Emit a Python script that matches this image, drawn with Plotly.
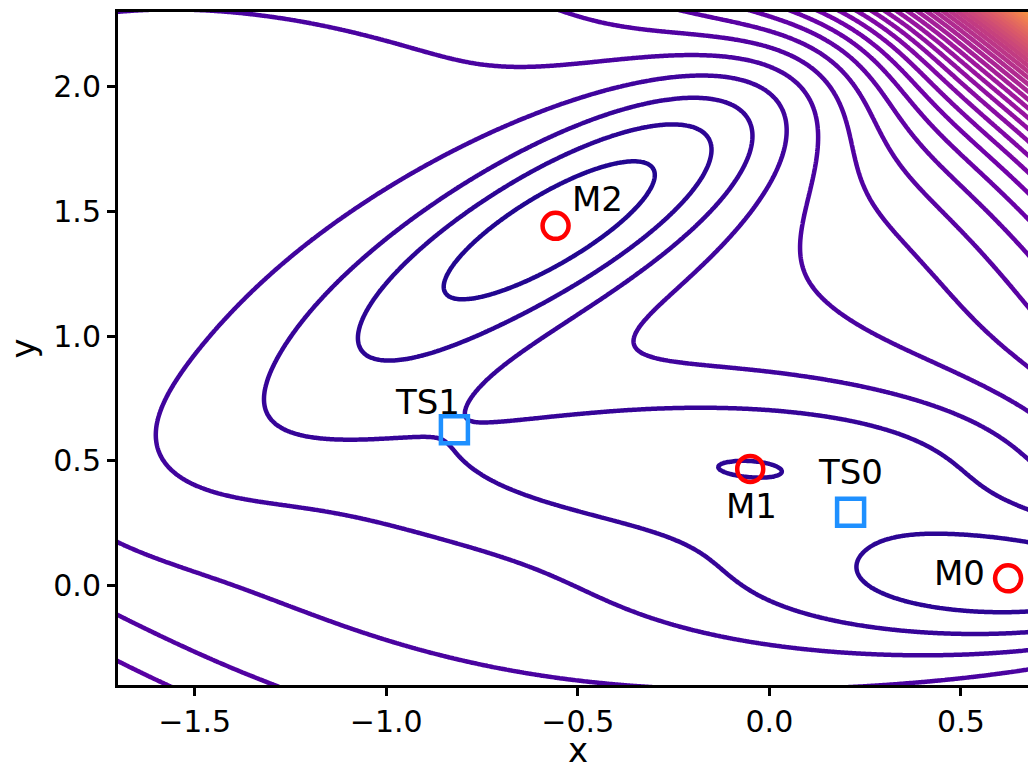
import numpy as np
import plotly.graph_objects as go

# Mueller-Brown potential parameters
A = [-200.0, -100.0, -170.0, 15.0]
a = [-1.0, -1.0, -6.5, 0.7]
b = [0.0, 0.0, 11.0, 0.6]
c = [-10.0, -10.0, -6.5, 0.7]
x0 = [1.0, 0.0, -0.5, -1.0]
y0 = [0.0, 0.5, 1.5, 1.0]

# stationary points
min_names = ["M0", "M1", "M2"]
min_x = [0.623, -0.050, -0.558]
min_y = [0.028, 0.467, 1.442]
ts_names = ["TS0", "TS1"]
ts_x = [0.212, -0.822]
ts_y = [0.293, 0.624]

# label positions
lab_names = ["M2", "M1", "M0", "TS0", "TS1"]
lab_x = [-0.448, -0.047, 0.497, 0.211, -0.892]
lab_y = [1.551, 0.318, 0.050, 0.455, 0.735]

# contour levels
lev_min = -200.0
lev_step = 40.0
lev_max = 1800.0

xt_vals = [-1.5, -1.0, -0.5, 0.0, 0.5]
xt_text = ["\u22121.5", "\u22121.0", "\u22120.5", "0.0", "0.5"]
yt_vals = [0.0, 0.5, 1.0, 1.5, 2.0]
yt_text = ["0.0", "0.5", "1.0", "1.5", "2.0"]

xs = np.linspace(-1.75, 0.72, 500)
ys = np.linspace(-0.45, 2.35, 500)
X, Y = np.meshgrid(xs, ys)
Z = np.zeros_like(X)
for k in range(4):
    dx = X - x0[k]
    dy = Y - y0[k]
    Z += A[k] * np.exp(a[k] * dx**2 + b[k] * dx * dy + c[k] * dy**2)

fig = go.Figure()
fig.add_trace(go.Contour(
    x=xs, y=ys, z=Z,
    colorscale="Plasma",
    zauto=False, zmin=lev_min, zmax=lev_max,
    contours=dict(coloring="lines", start=lev_min, end=lev_max, size=lev_step),
    line=dict(width=4.5, smoothing=1),
    showscale=False,
    hoverinfo="skip",
))
fig.add_trace(go.Scatter(
    x=min_x, y=min_y, mode="markers",
    marker=dict(symbol="circle-open", size=26, color="red", line=dict(width=4.5, color="red")),
    showlegend=False,
))
fig.add_trace(go.Scatter(
    x=ts_x, y=ts_y, mode="markers",
    marker=dict(symbol="square-open", size=27, color="#1e90ff", line=dict(width=4.5, color="#1e90ff")),
    showlegend=False,
))
for n, lx, ly in zip(lab_names, lab_x, lab_y):
    fig.add_annotation(x=lx, y=ly, text=n, showarrow=False, xanchor="center", yanchor="middle",
                       font=dict(family="DejaVu Sans", size=34, color="black"))

# x axis title as paper annotation
fig.add_annotation(x=0.5055, y=-0.1278, xref="paper", yref="paper", text="x", showarrow=False,
                   xanchor="center", yanchor="bottom", borderpad=0,
                   font=dict(family="DejaVu Sans", size=34, color="black"))

fig.update_layout(
    width=1028, height=772,
    margin=dict(l=118, r=0, t=12, b=87),
    paper_bgcolor="white", plot_bgcolor="white",
    font=dict(family="DejaVu Sans", size=30, color="black"),
    showlegend=False,
)
fig.update_xaxes(
    range=[-1.70, 0.675], showgrid=False, zeroline=False, automargin=False,
    showline=True, linewidth=3, linecolor="black", mirror=True,
    ticks="outside", ticklen=8, tickwidth=3, tickcolor="black",
    tickvals=xt_vals, ticktext=xt_text,
    tickfont=dict(family="DejaVu Sans", size=30, color="black"),
)
fig.update_yaxes(
    range=[-0.4, 2.3], showgrid=False, zeroline=False, automargin=False,
    showline=True, linewidth=3, linecolor="black", mirror=False,
    ticks="outside", ticklen=8, tickwidth=3, tickcolor="black",
    tickvals=yt_vals, ticktext=yt_text,
    tickfont=dict(family="DejaVu Sans", size=30, color="black"),
    title=dict(text="y", font=dict(family="DejaVu Sans", size=34, color="black"), standoff=8),
)
fig.write_html("out.html")
